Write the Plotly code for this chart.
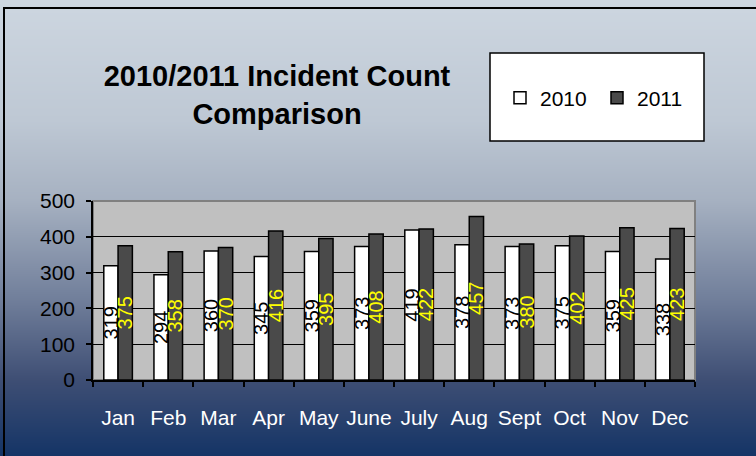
import base64
import struct
import zlib

import plotly.graph_objects as go

# ---------------- data ----------------
months = ["Jan", "Feb", "Mar", "Apr", "May", "June", "July", "Aug", "Sept", "Oct", "Nov", "Dec"]
counts_2010 = [319, 294, 360, 345, 359, 373, 419, 378, 373, 375, 359, 338]
counts_2011 = [375, 358, 370, 416, 395, 408, 422, 457, 380, 402, 425, 423]
y_ticks = [0, 100, 200, 300, 400, 500]

# ---------------- background gradient image ----------------
W, H = 756, 456
L, R, T, B = 93, 61, 201, 76
PW, PH = W - L - R, H - T - B

bg_stops = [(0, (205, 214, 224)), (120, (190, 200, 212)), (200, (166, 177, 193)),
            (300, (112, 126, 154)), (380, (62, 78, 116)), (456, (20, 52, 102))]


def grad_color(py):
    for (y0, c0), (y1, c1) in zip(bg_stops[:-1], bg_stops[1:]):
        if y0 <= py <= y1:
            t = (py - y0) / (y1 - y0)
            return tuple(int(round(a + (b - a) * t)) for a, b in zip(c0, c1))
    return bg_stops[-1][1]


def make_png(h):
    w = 2
    raw = b"".join(b"\x00" + bytes(grad_color(y)) * w for y in range(h))

    def chunk(tag, data):
        return (struct.pack(">I", len(data)) + tag + data
                + struct.pack(">I", zlib.crc32(tag + data) & 0xFFFFFFFF))

    png = b"\x89PNG\r\n\x1a\n"
    png += chunk(b"IHDR", struct.pack(">IIBBBBB", w, h, 8, 2, 0, 0, 0))
    png += chunk(b"IDAT", zlib.compress(raw, 9))
    png += chunk(b"IEND", b"")
    return "data:image/png;base64," + base64.b64encode(png).decode()


def px_x(px):
    return (px - L) / PW


def px_y(py):
    return (H - B - py) / PH


FONT = "Liberation Sans, Arial, sans-serif"

fig = go.Figure()
fig.add_trace(go.Bar(
    name="2010", x=months, y=counts_2010,
    marker=dict(color="#ffffff", line=dict(color="#000000", width=1.5)),
    texttemplate="%{y}", textposition="inside", insidetextanchor="middle",
    textangle=-90, constraintext="none",
    textfont=dict(family=FONT, size=20, color="#000000"),
))
fig.add_trace(go.Bar(
    name="2011", x=months, y=counts_2011,
    marker=dict(color="#4a4a4a", line=dict(color="#000000", width=1.5)),
    texttemplate="%{y}", textposition="inside", insidetextanchor="middle",
    textangle=-90, constraintext="none",
    textfont=dict(family=FONT, size=20, color="#ffff00"),
))

fig.update_layout(
    width=W, height=H,
    margin=dict(l=L, r=R, t=T, b=B, pad=0, autoexpand=False),
    paper_bgcolor="#8090a8",
    plot_bgcolor="rgba(0,0,0,0)",
    barmode="group", bargap=0.43, bargroupgap=0,
    font=dict(family=FONT, size=21, color="#000000"),
    title=dict(
        text="2010/2011 Incident Count<br>Comparison",
        font=dict(family=FONT, size=29, color="#000000", weight=700),
        x=277 / W, xanchor="center", xref="container",
        y=1 - 86 / H, yanchor="middle", yref="container",
    ),
    showlegend=True,
    legend=dict(
        orientation="h", x=px_x(500), xanchor="left", y=px_y(98), yanchor="middle",
        bgcolor="rgba(0,0,0,0)", borderwidth=0,
        font=dict(family=FONT, size=21, color="#000000"),
        entrywidth=52, entrywidthmode="pixels",
        traceorder="normal",
    ),
    images=[dict(
        source=make_png(H), xref="paper", yref="paper",
        x=px_x(0), y=px_y(0), sizex=W / PW, sizey=H / PH,
        xanchor="left", yanchor="top", sizing="stretch", layer="below",
    )],
    shapes=[
        # plot area fill
        dict(type="rect", xref="x domain", yref="y domain", x0=0, x1=1, y0=0, y1=1,
             fillcolor="#c0c0c0", line=dict(color="#808080", width=2), layer="below"),
        # legend box
        dict(type="rect", xref="paper", yref="paper",
             x0=px_x(490), x1=px_x(704), y0=px_y(141), y1=px_y(53),
             fillcolor="#ffffff", line=dict(color="#000000", width=1.5), layer="below"),
        # outer chart border
        dict(type="rect", xref="paper", yref="paper",
             x0=px_x(4), x1=px_x(790), y0=px_y(500), y1=px_y(8),
             fillcolor="rgba(0,0,0,0)", line=dict(color="#000000", width=2), layer="above"),
    ],
)

fig.update_xaxes(
    showline=True, linecolor="#000000", linewidth=2,
    ticks="outside", tickson="boundaries", ticklen=5, tickcolor="#000000", tickwidth=1.5,
    tickfont=dict(family=FONT, size=21, color="#ffffff"),
    tickangle=0, automargin=False,
    ticklabelstandoff=18,
    showgrid=False,
)
fig.update_yaxes(
    range=[0, 500], tickvals=y_ticks, ticktext=[str(v) for v in y_ticks],
    showline=True, linecolor="#000000", linewidth=1.5,
    ticks="outside", ticklen=5, tickcolor="#000000", tickwidth=1.5,
    tickfont=dict(family=FONT, size=21, color="#000000"),
    automargin=False,
    ticklabelstandoff=7,
    showgrid=True, gridcolor="#000000", gridwidth=1,
    zeroline=False,
)

fig.write_html(
    "out.html",
    config={"displayModeBar": False},
    post_script="document.body.style.margin='0';document.body.style.overflow='hidden';",
)
